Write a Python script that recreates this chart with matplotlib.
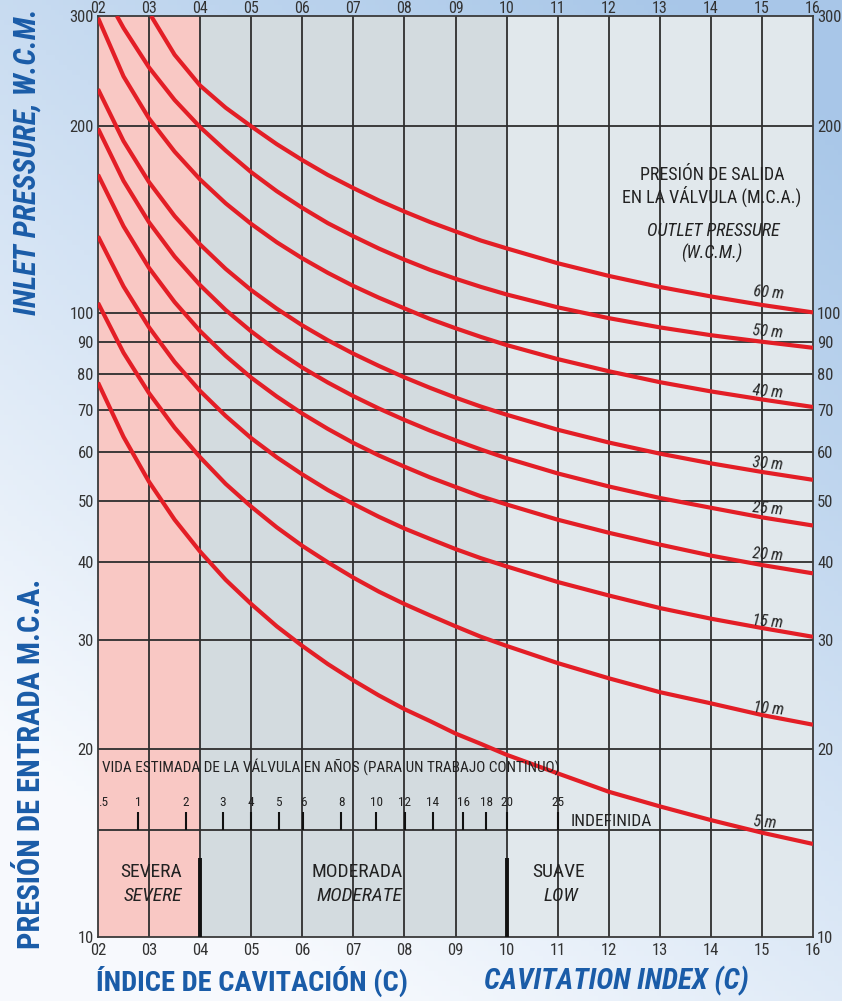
import numpy as np
import matplotlib
matplotlib.use("Agg")
import matplotlib.pyplot as plt
import matplotlib.ticker as mticker
import matplotlib.transforms as mtrans
from matplotlib import font_manager as fm

# ---------------- data ----------------
SIGMA = [0.20, 0.25, 0.30, 0.35, 0.40, 0.45, 0.50, 0.55, 0.60, 0.65, 0.70, 0.75,
         0.80, 0.85, 0.90, 0.95, 1.00, 1.10, 1.20, 1.30, 1.40, 1.50, 1.60]
P5 = [77.5, 63.4, 53.7, 46.7, 41.5, 37.4, 34.2, 31.5, 29.3, 27.4, 25.8, 24.4,
      23.2, 22.2, 21.2, 20.4, 19.6, 18.3, 17.1, 16.2, 15.4, 14.7, 14.1]
P10 = [104, 86.5, 74.5, 65.6, 58.8, 53.3, 49.0, 45.4, 42.4, 39.9, 37.7, 35.8,
       34.2, 32.8, 31.5, 30.3, 29.3, 27.5, 26.0, 24.7, 23.7, 22.7, 21.9]
P15 = [133, 110.5, 95.0, 83.6, 75.1, 68.5, 63.1, 58.8, 55.2, 52.1, 49.5, 47.2,
       45.2, 43.5, 41.9, 40.5, 39.3, 37.1, 35.3, 33.7, 32.4, 31.3, 30.3]
P20 = [167, 138.0, 118.3, 104.3, 93.7, 85.5, 78.9, 73.6, 69.1, 65.3, 62.0, 59.2,
       56.8, 54.6, 52.7, 50.9, 49.4, 46.7, 44.5, 42.6, 40.9, 39.5, 38.3]
P25 = [198, 163.2, 140.0, 123.4, 111.0, 101.3, 93.6, 87.2, 81.9, 77.5, 73.7, 70.4,
       67.5, 64.9, 62.6, 60.5, 58.6, 55.4, 52.8, 50.6, 48.8, 47.1, 45.7]
P30 = [229, 189.0, 162.4, 143.3, 129.0, 117.9, 109.0, 101.8, 95.7, 90.6, 86.2, 82.4,
       79.0, 76.0, 73.3, 70.9, 68.8, 65.1, 62.1, 59.6, 57.5, 55.7, 54.1]
P40 = [298, 240, 205.4, 181.8, 164, 150.2, 139.2, 130.1, 122.6, 116.2, 110.7, 106.0,
       101.9, 98.0, 94.7, 91.7, 89.0, 84.5, 80.8, 77.6, 75.0, 72.8, 70.8]
SIGMA_50 = [0.237, 0.25, 0.30, 0.35, 0.40, 0.45, 0.50, 0.55, 0.60, 0.65, 0.70, 0.75,
            0.80, 0.85, 0.90, 0.95, 1.00, 1.10, 1.20, 1.30, 1.40, 1.50, 1.60]
P50 = [300, 287, 248, 220, 199, 182.5, 168.5, 157.1, 147.7, 139.6, 133.0, 127.1,
       122.0, 117.5, 113.7, 110.3, 107.3, 102.3, 98.3, 95.0, 92.3, 90.1, 88.1]
SIGMA_60 = [0.304, 0.35, 0.40, 0.45, 0.50, 0.55, 0.60, 0.65, 0.70, 0.75, 0.80, 0.85,
            0.90, 0.95, 1.00, 1.10, 1.20, 1.30, 1.40, 1.50, 1.60]
P60 = [300, 260, 232, 213.8, 199.6, 186.9, 176.2, 166.8, 158.9, 151.8, 145.7, 140.2,
       135.4, 130.9, 127.2, 120.4, 114.9, 110.3, 106.5, 103.2, 100.4]

CURVE_NAMES = ["5 m", "10 m", "15 m", "20 m", "25 m", "30 m", "40 m", "50 m", "60 m"]

X_TICKS = [0.2, 0.3, 0.4, 0.5, 0.6, 0.7, 0.8, 0.9, 1.0, 1.1, 1.2, 1.3, 1.4, 1.5, 1.6]
X_LABELS = ["02", "03", "04", "05", "06", "07", "08", "09", "10", "11", "12", "13", "14", "15", "16"]
Y_TICKS = [10, 20, 30, 40, 50, 60, 70, 80, 90, 100, 200, 300]
Y_LABELS = ["10", "20", "30", "40", "50", "60", "70", "80", "90", "100", "200", "300"]

LIFE_YEARS = ["1", "2", "3", "4", "5", "6", "8", "10", "12", "14", "16", "18", "20", "25"]
LIFE_SIGMA = [0.279, 0.372, 0.445, 0.500, 0.554, 0.602, 0.676, 0.745, 0.801,
              0.856, 0.915, 0.960, 1.000, 1.100]

ZONE_EDGES = [0.2, 0.4, 1.0, 1.6]

# ---------------- fonts ----------------
names = {f.name for f in fm.fontManager.ttflist}
cond_family, cond_stretch, k = None, "normal", 1.0
for n in ["Roboto Condensed", "Liberation Sans Narrow", "Noto Sans Condensed",
          "Noto Sans SemiCondensed", "DejaVu Sans Condensed", "Open Sans Condensed",
          "Arial Narrow", "Nimbus Sans Narrow"]:
    if n in names:
        cond_family = n
        break
if cond_family is None:
    for n in ["Roboto", "Noto Sans", "DejaVu Sans"]:
        if any(f.name == n and str(f.stretch).endswith("condensed") for f in fm.fontManager.ttflist):
            cond_family, cond_stretch = n, "condensed"
            break
if cond_family is None:
    cond_family, k = "Liberation Sans", 0.82

plt.rcParams["font.family"] = [cond_family, "DejaVu Sans"]
plt.rcParams["font.stretch"] = cond_stretch


def fp(size, weight="normal", style="normal"):
    return fm.FontProperties(family=[cond_family, "DejaVu Sans"], size=size * k,
                             weight=weight, style=style, stretch=cond_stretch)


W, H = 842, 1001
fig = plt.figure(figsize=(W / 100, H / 100), dpi=100)


def px(x, y):
    return x / W, 1 - y / H


# background sky gradient
bg = fig.add_axes([0, 0, 1, 1], zorder=0)
gy, gx = np.mgrid[0:1:200j, 0:1:200j]
t = np.clip(0.6 - 0.8 * gy + 0.5 * gx, 0, 1)[..., None]
blue = np.array([0.66, 0.78, 0.91])
white = np.array([0.97, 0.98, 0.995])
bg.imshow(white * (1 - t) + blue * t, extent=[0, 1, 0, 1], aspect="auto", origin="upper")
bg.axis("off")

ax = fig.add_axes([98 / W, 64 / H, 715 / W, 921 / H], zorder=1)
ax.set_yscale("log")
ax.set_xlim(0.2, 1.6)
ax.set_ylim(10, 300)

zone_colors = ["#f9c8c4", "#d3dbdf", "#e1e8ec"]
for i, c in enumerate(zone_colors):
    ax.axvspan(ZONE_EDGES[i], ZONE_EDGES[i + 1], color=c, zorder=0, lw=0)

grid_c = "#2e2e2e"
for xv in X_TICKS[1:-1]:
    ax.axvline(xv, color=grid_c, lw=1.3, zorder=1)
for yv in Y_TICKS[1:-1]:
    ax.axhline(yv, color=grid_c, lw=1.3, zorder=1)
for s in ax.spines.values():
    s.set_color("#3a3a3a")
    s.set_linewidth(1.3)

ax.set_xticks(X_TICKS)
ax.set_xticklabels(X_LABELS)
ax.set_yticks(Y_TICKS)
ax.set_yticklabels(Y_LABELS)
ax.yaxis.set_minor_locator(mticker.NullLocator())
ax.yaxis.set_minor_formatter(mticker.NullFormatter())
ax.tick_params(axis="x", length=0, pad=4, labelcolor="#333333")
ax.tick_params(axis="y", length=0, right=True, labelright=True, pad=3,
               labelcolor="#333333")
for lab in ax.get_xticklabels() + ax.get_yticklabels():
    lab.set_fontproperties(fp(12))

# top tick labels (just inside the top edge of the figure)
top_tr = mtrans.blended_transform_factory(ax.transData, ax.transAxes)
for xv, lab in zip(X_TICKS, X_LABELS):
    ax.text(xv, 1 + 7.5 / 921, lab, transform=top_tr, ha="center", va="center",
            fontproperties=fp(11.5), color="#333333", clip_on=False)

# curves
red = "#e31e26"
series = [(SIGMA, P5), (SIGMA, P10), (SIGMA, P15), (SIGMA, P20), (SIGMA, P25),
          (SIGMA, P30), (SIGMA, P40), (SIGMA_50, P50), (SIGMA_60, P60)]
for xs, ys in series:
    ax.plot(xs, ys, color=red, lw=3.0, zorder=3, solid_capstyle="butt",
            solid_joinstyle="round")

# curve labels
label_pos = [(765, 823), (769, 709), (768, 622), (768, 555), (768, 509),
             (768, 464), (768, 392), (768, 332), (769, 293)]
for name, (lx, ly) in zip(CURVE_NAMES, label_pos):
    fig.text(*px(lx, ly), name, ha="center", va="center", rotation=-5,
             fontproperties=fp(11.5, style="italic"), color="#222222", zorder=5)

# legend title
txt_c = "#222222"
fig.text(*px(712, 175), "PRESIÓN DE SALIDA", ha="center", va="center",
         fontproperties=fp(13), color=txt_c, zorder=5)
fig.text(*px(712, 196), "EN LA VÁLVULA (M.C.A.)", ha="center", va="center",
         fontproperties=fp(13), color=txt_c, zorder=5)
fig.text(*px(713, 231), "OUTLET PRESSURE", ha="center", va="center",
         fontproperties=fp(13, style="italic"), color=txt_c, zorder=5)
fig.text(*px(712, 253), "(W.C.M.)", ha="center", va="center",
         fontproperties=fp(13, style="italic"), color=txt_c, zorder=5)

# life expectancy scale
ax.axhline(14.85, color=grid_c, lw=1.3, zorder=2)
ax.vlines(LIFE_SIGMA, 14.85, 15.85, color="#111111", lw=1.5, zorder=2)
for lab, xv in zip(LIFE_YEARS, LIFE_SIGMA):
    ax.text(xv, 16.45, lab, ha="center", va="center", fontproperties=fp(9.5),
            color=txt_c, zorder=5)
ax.text(0.211, 16.45, ".5", ha="center", va="center", fontproperties=fp(9.5),
        color=txt_c, zorder=5)
fig.text(*px(102, 767), "VIDA ESTIMADA DE LA VÁLVULA EN AÑOS (PARA UN TRABAJO CONTINUO)",
         ha="left", va="center", fontproperties=fp(11), color=txt_c, zorder=5)
fig.text(*px(571, 822), "INDEFINIDA", ha="left", va="center",
         fontproperties=fp(12.5), color=txt_c, zorder=5)

# cavitation zones
ax.vlines([0.4, 1.0], 10, 13.4, color="#111111", lw=2.8, zorder=4)
zones = [("SEVERA", "SEVERE", 151), ("MODERADA", "MODERATE", 357), ("SUAVE", "LOW", 559)]
for es, en, zx in zones:
    fig.text(*px(zx, 872), es, ha="center", va="center", fontproperties=fp(14),
             color=txt_c, zorder=5)
    fig.text(*px(zx + 2, 896), en, ha="center", va="center",
             fontproperties=fp(14, style="italic"), color=txt_c, zorder=5)

# blue axis titles
title_c = "#1a5ca8"
fig.text(*px(96, 981), "ÍNDICE DE CAVITACIÓN (C)", ha="left", va="center",
         fontproperties=fp(20.5, weight="bold"), color=title_c)
fig.text(*px(616, 981), "CAVITATION INDEX (C)", ha="center", va="center",
         fontproperties=fp(21, weight="bold", style="italic"), color=title_c)
fig.text(*px(27, 162), "INLET PRESSURE, W.C.M.", ha="center", va="center", rotation=90,
         fontproperties=fp(22, weight="bold", style="italic"), color=title_c)
fig.text(*px(31, 764), "PRESIÓN DE ENTRADA M.C.A.", ha="center", va="center", rotation=90,
         fontproperties=fp(22, weight="bold"), color=title_c)

fig.savefig("out.png", dpi=100)
